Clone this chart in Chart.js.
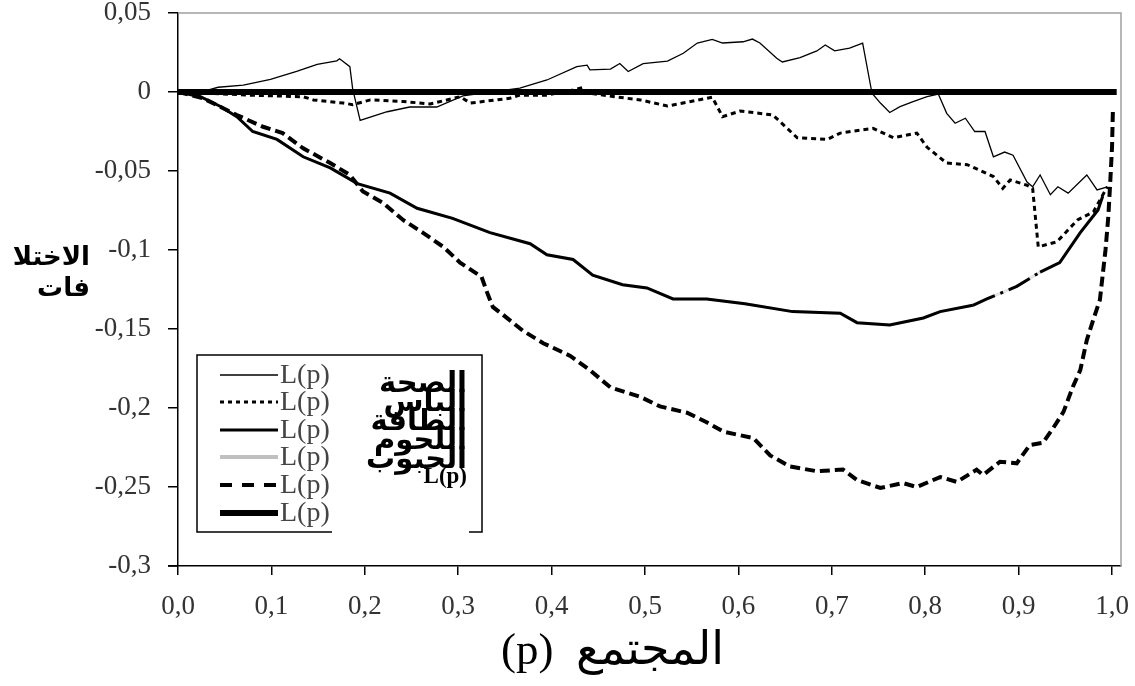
<!DOCTYPE html>
<html>
<head>
<meta charset="utf-8">
<script src="https://cdn.jsdelivr.net/npm/chart.js@4"></script>
<style>
  body { margin: 0; background: #fff; }
  canvas { display: block; }
</style>
</head>
<body>
<canvas id="myChart" width="1135" height="686"></canvas>
<script>
// [p, L(p)] pairs
const health = [
  [0, 0], [0.031, 0.001], [0.043, 0.003], [0.07, 0.0044], [0.099, 0.008], [0.127, 0.013],
  [0.149, 0.0175], [0.17, 0.0197], [0.173, 0.021], [0.184, 0.016], [0.187, 0.002], [0.195, -0.018],
  [0.224, -0.0125], [0.248, -0.0095], [0.277, -0.0095], [0.305, -0.0025], [0.366, 0.0025],
  [0.395, 0.0076], [0.427, 0.016], [0.438, 0.017], [0.441, 0.014], [0.463, 0.0145], [0.473, 0.018],
  [0.482, 0.013], [0.498, 0.018], [0.524, 0.0196], [0.541, 0.0245], [0.556, 0.031], [0.572, 0.0333],
  [0.583, 0.031], [0.605, 0.0318], [0.615, 0.0335], [0.623, 0.031], [0.641, 0.0214], [0.647, 0.019],
  [0.666, 0.0217], [0.684, 0.026], [0.693, 0.0298], [0.703, 0.026], [0.719, 0.0278], [0.733, 0.031],
  [0.743, -0.0008], [0.752, -0.007], [0.762, -0.013], [0.773, -0.0093], [0.787, -0.0061],
  [0.802, -0.003], [0.814, -0.0013], [0.823, -0.0135], [0.832, -0.0198], [0.843, -0.0166],
  [0.853, -0.025], [0.864, -0.025], [0.873, -0.041], [0.885, -0.038], [0.894, -0.04], [0.909, -0.057],
  [0.915, -0.06], [0.923, -0.0525], [0.934, -0.065], [0.942, -0.06], [0.953, -0.064], [0.973, -0.0525],
  [0.984, -0.062], [0.995, -0.06]
];
const clothing = [
  [0, 0], [0.077, -0.002], [0.134, -0.003], [0.145, -0.005], [0.177, -0.007], [0.187, -0.008],
  [0.206, -0.005], [0.241, -0.006], [0.27, -0.0076], [0.302, -0.003], [0.313, -0.007], [0.355, -0.004],
  [0.366, -0.002], [0.395, -0.002], [0.423, 0.0013], [0.434, 0.003], [0.438, -0.0006], [0.481, -0.004],
  [0.495, -0.005], [0.524, -0.0089], [0.572, -0.0033], [0.583, -0.0156], [0.602, -0.012],
  [0.637, -0.0146], [0.663, -0.029], [0.695, -0.03], [0.709, -0.026], [0.744, -0.023], [0.766, -0.029],
  [0.791, -0.026], [0.802, -0.035], [0.823, -0.045], [0.845, -0.046], [0.873, -0.0535], [0.883, -0.061],
  [0.891, -0.0557], [0.909, -0.059], [0.915, -0.061], [0.921, -0.098], [0.941, -0.0948],
  [0.963, -0.081], [0.98, -0.0759], [0.995, -0.06]
];
const energy = [
  [0, 0], [0.024, -0.003], [0.045, -0.009], [0.063, -0.0156], [0.08, -0.025], [0.106, -0.03],
  [0.134, -0.041], [0.163, -0.048], [0.192, -0.058], [0.227, -0.064], [0.256, -0.0736], [0.294, -0.08],
  [0.334, -0.089], [0.377, -0.096], [0.395, -0.103], [0.423, -0.106], [0.444, -0.116], [0.476, -0.122],
  [0.502, -0.124], [0.53, -0.131], [0.566, -0.131], [0.607, -0.134], [0.658, -0.139], [0.709, -0.14],
  [0.727, -0.146], [0.762, -0.1475], [0.798, -0.143], [0.816, -0.139], [0.851, -0.135], [0.866, -0.131],
  [0.898, -0.123], [0.923, -0.114], [0.944, -0.108], [0.966, -0.089], [0.985, -0.0747], [0.99, -0.066]
];
// grey series sits under the energy line
const meat = energy.slice();
const cereals = [
  [0, 0], [0.027, -0.004], [0.063, -0.0146], [0.091, -0.022], [0.112, -0.026], [0.134, -0.0356],
  [0.163, -0.045], [0.184, -0.0525], [0.198, -0.063], [0.219, -0.07], [0.241, -0.081], [0.262, -0.089],
  [0.284, -0.098], [0.302, -0.108], [0.325, -0.117], [0.331, -0.127], [0.337, -0.136], [0.348, -0.141],
  [0.369, -0.151], [0.391, -0.159], [0.42, -0.167], [0.441, -0.176], [0.463, -0.187], [0.495, -0.193],
  [0.516, -0.199], [0.545, -0.203], [0.566, -0.209], [0.584, -0.215], [0.616, -0.219], [0.634, -0.23],
  [0.655, -0.237], [0.684, -0.24], [0.712, -0.239], [0.727, -0.2456], [0.752, -0.2506], [0.776, -0.2475],
  [0.791, -0.25], [0.816, -0.2437], [0.834, -0.2468], [0.855, -0.239], [0.862, -0.2424], [0.88, -0.234],
  [0.898, -0.235], [0.912, -0.2234], [0.926, -0.222], [0.937, -0.2127], [0.948, -0.2025],
  [0.958, -0.1867], [0.966, -0.176], [0.973, -0.157], [0.98, -0.144], [0.987, -0.1316], [0.993, -0.1],
  [0.996, -0.079], [0.998, -0.058], [1.0, -0.035], [1.001, -0.0095]
];
const equality = [[0, 0], [1.005, 0]];

const xTicks = ["0,0", "0,1", "0,2", "0,3", "0,4", "0,5", "0,6", "0,7", "0,8", "0,9", "1,0"];
const yTicks = ["-0,3", "-0,25", "-0,2", "-0,15", "-0,1", "-0,05", "0", "0,05"];
const seriesNames = ["الصحة", "الباس", "الطاقة", "اللحوم", "الحبوب"];
const legendText = "L(p)";

const toXY = (arr) => arr.map((d) => ({ x: d[0], y: d[1] }));
const serif = "'Liberation Serif', 'Times New Roman', serif";

const datasets = [
  { label: seriesNames[0], data: toXY(health), borderColor: "#000", borderWidth: 1.3, order: 2 },
  { label: seriesNames[1], data: toXY(clothing), borderColor: "#000", borderWidth: 3, borderDash: [5, 4], order: 3 },
  {
    label: seriesNames[2], data: toXY(energy), borderColor: "#000", borderWidth: 3, order: 4,
    segment: {
      borderDash: (ctx) => (ctx.p0.parsed.x >= 0.82 && ctx.p0.parsed.x < 0.92 ? [24, 6, 3, 6] : undefined),
    },
  },
  { label: seriesNames[3], data: toXY(meat), borderColor: "#e4e4e4", borderWidth: 3, order: 6 },
  { label: seriesNames[4], data: toXY(cereals), borderColor: "#000", borderWidth: 4, borderDash: [10, 5], order: 5 },
  { label: legendText, data: toXY(equality), borderColor: "#000", borderWidth: 6, borderCapStyle: "butt", order: 1 },
];

// frame, titles and the boxed legend
const decorations = {
  id: "decorations",
  afterDraw(chart) {
    const ctx = chart.ctx;
    const a = chart.chartArea;
    ctx.save();
    ctx.strokeStyle = "#a0a0a0";
    ctx.lineWidth = 1.5;
    ctx.beginPath();
    ctx.moveTo(a.left, a.top);
    ctx.lineTo(a.right, a.top);
    ctx.lineTo(a.right, a.bottom);
    ctx.stroke();
    // bottom axis runs a little past the y axis
    ctx.strokeStyle = "#000";
    ctx.beginPath();
    ctx.moveTo(168, a.bottom);
    ctx.lineTo(a.left, a.bottom);
    ctx.stroke();

    // y title
    ctx.fillStyle = "#000";
    ctx.textAlign = "right";
    ctx.textBaseline = "alphabetic";
    ctx.font = "bold 26px 'DejaVu Sans'";
    ctx.fillText("الاختلا", 90, 265);
    ctx.fillText("فات", 90, 296);

    // x title
    ctx.textAlign = "left";
    ctx.font = "45px " + serif;
    ctx.fillText("(p)", 501, 664);
    ctx.textAlign = "right";
    ctx.font = "46px 'DejaVu Sans'";
    ctx.fillText("المجتمع", 724, 664);

    // legend box
    const bx = 197, by = 355, bw = 285, bh = 177;
    ctx.fillStyle = "#fff";
    ctx.fillRect(bx, by, bw, bh);
    ctx.strokeStyle = "#000";
    ctx.lineWidth = 1.5;
    ctx.beginPath();
    ctx.moveTo(332, by + bh);
    ctx.lineTo(bx, by + bh);
    ctx.lineTo(bx, by);
    ctx.lineTo(bx + bw, by);
    ctx.lineTo(bx + bw, by + bh);
    ctx.lineTo(469, by + bh);
    ctx.stroke();

    const rowY = [375, 402, 430, 457, 485, 513];
    const sampleDash = [[], [4, 4], [], [], [12, 10], []];
    chart.data.datasets.forEach((ds, i) => {
      ctx.strokeStyle = i === 3 ? "#c0c0c0" : ds.borderColor;
      ctx.lineWidth = i === 3 ? 4 : ds.borderWidth;
      ctx.setLineDash(sampleDash[i]);
      ctx.beginPath();
      ctx.moveTo(220, rowY[i]);
      ctx.lineTo(278, rowY[i]);
      ctx.stroke();
      ctx.setLineDash([]);
      ctx.fillStyle = "#444";
      ctx.textAlign = "left";
      ctx.textBaseline = "middle";
      ctx.font = "28px " + serif;
      ctx.fillText(legendText, 280, rowY[i] + 1);
    });

    // stacked arabic names
    ctx.fillStyle = "#000";
    ctx.textAlign = "right";
    ctx.textBaseline = "alphabetic";
    ctx.font = "bold 29px 'DejaVu Sans'";
    seriesNames.forEach((name, i) => {
      ctx.fillText(name, 467, 392 + i * 19);
    });
    ctx.font = "bold 23px " + serif;
    ctx.fillText(legendText, 467, 483);
    ctx.restore();
  },
};

new Chart(document.getElementById("myChart"), {
  type: "line",
  data: { datasets },
  plugins: [decorations],
  options: {
    responsive: false,
    animation: false,
    devicePixelRatio: 1,
    layout: { padding: { left: 0, right: 14, top: 13, bottom: 0 } },
    elements: { point: { radius: 0 }, line: { tension: 0 } },
    plugins: { legend: { display: false }, tooltip: { enabled: false } },
    scales: {
      x: {
        type: "linear",
        min: 0,
        max: 1.0096,
        afterFit: (s) => { s.height = 120; s.paddingLeft = 0; s.paddingRight = 0; },
        afterBuildTicks: (s) => { s.ticks = xTicks.map((t, i) => ({ value: i / 10 })); },
        ticks: {
          color: "#333",
          padding: 16,
          maxRotation: 0,
          autoSkip: false,
          font: { family: serif, size: 27 },
          callback: (v, i) => xTicks[i],
        },
        grid: { drawOnChartArea: false, tickLength: 9, color: "#000", lineWidth: 1.5 },
        border: { color: "#000", width: 1.5 },
      },
      y: {
        min: -0.3,
        max: 0.05,
        afterFit: (s) => { s.width = 178; s.paddingTop = 0; s.paddingBottom = 0; },
        afterBuildTicks: (s) => { s.ticks = yTicks.map((t, i) => ({ value: -0.3 + i * 0.05 })); },
        ticks: {
          color: "#333",
          padding: 17,
          autoSkip: false,
          font: { family: serif, size: 27 },
          callback: (v, i) => yTicks[i],
        },
        grid: { drawOnChartArea: false, tickLength: 10, color: "#000", lineWidth: 1.5 },
        border: { color: "#000", width: 1.5 },
      },
    },
  },
});
</script>
</body>
</html>
